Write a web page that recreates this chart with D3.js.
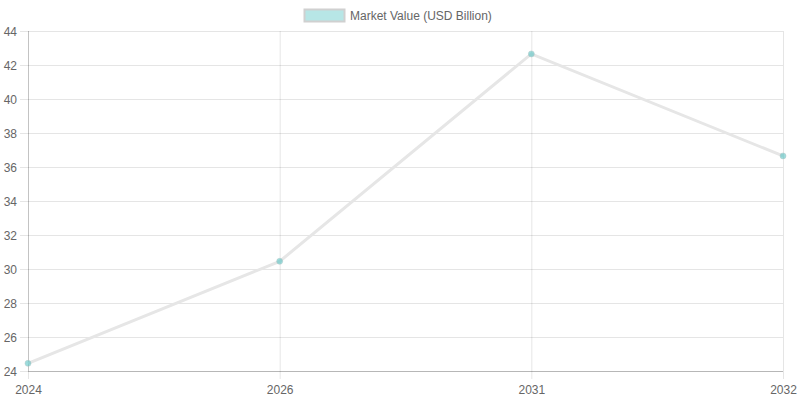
<!DOCTYPE html>
<html>
<head>
<meta charset="utf-8">
<script src="https://cdn.jsdelivr.net/npm/d3@7"></script>
<style>
  body { margin: 0; background: #fff; }
  text { font-family: "Liberation Sans", Arial, sans-serif; }
</style>
</head>
<body>
<div id="chart"></div>
<script>
// data
let years = ["2024", "2026", "2031", "2032"];
let marketValue = [24.45, 30.45, 42.65, 36.65];
let yTicks = [24, 26, 28, 30, 32, 34, 36, 38, 40, 42, 44];
let seriesName = "Market Value (USD Billion)";

let W = 800, H = 400,
  margin = {top: 31, left: 28, bottom: 29, right: 17};

let svg = d3.select("#chart").append("svg").attr("width", W).attr("height", H);

let x = d3.scalePoint()
  .domain(years)
  .range([margin.left, W - margin.right]);

let y = d3.scaleLinear()
  .domain([24, 44])
  .range([H - margin.bottom, margin.top]);

let gridColor = "rgba(0,0,0,0.1)";
let textColor = "#666";

// horizontal grid + y ticks
let yAxis = svg.append("g")
  .attr("transform", `translate(${margin.left},0)`)
  .call(d3.axisLeft(y).tickValues(yTicks).tickSize(8).tickPadding(3).tickFormat(d3.format("d")));
yAxis.select(".domain").remove();
yAxis.selectAll("line").attr("stroke", gridColor);
yAxis.selectAll("text").attr("fill", textColor).attr("font-size", 12).attr("dy", "0.4em");

svg.append("g")
  .selectAll("line")
  .data(yTicks)
  .join("line")
  .attr("x1", margin.left).attr("x2", W - margin.right)
  .attr("y1", d => y(d) + 0.5).attr("y2", d => y(d) + 0.5)
  .attr("stroke", gridColor);

// vertical grid + x ticks
let xAxis = svg.append("g")
  .attr("transform", `translate(0,${H - margin.bottom})`)
  .call(d3.axisBottom(x).tickSize(8).tickPadding(6));
xAxis.select(".domain").remove();
xAxis.selectAll("line").attr("stroke", gridColor);
xAxis.selectAll("text").attr("fill", textColor).attr("font-size", 12);

svg.append("g")
  .selectAll("line")
  .data(years)
  .join("line")
  .attr("x1", d => x(d) + 0.5).attr("x2", d => x(d) + 0.5)
  .attr("y1", margin.top).attr("y2", H - margin.bottom)
  .attr("stroke", gridColor);

// axis lines
svg.append("line")
  .attr("x1", margin.left + 0.5).attr("x2", margin.left + 0.5)
  .attr("y1", margin.top).attr("y2", H - margin.bottom)
  .attr("stroke", "rgba(0,0,0,0.15)");
svg.append("line")
  .attr("x1", margin.left).attr("x2", W - margin.right)
  .attr("y1", H - margin.bottom + 0.5).attr("y2", H - margin.bottom + 0.5)
  .attr("stroke", "rgba(0,0,0,0.2)");

// the line
let line = d3.line()
  .x((d, i) => x(years[i]))
  .y(d => y(d));

svg.append("path")
  .datum(marketValue)
  .attr("d", line)
  .attr("fill", "none")
  .attr("stroke", "#e6e6e6")
  .attr("stroke-width", 3);

svg.append("g")
  .selectAll("circle")
  .data(marketValue)
  .join("circle")
  .attr("cx", (d, i) => x(years[i]))
  .attr("cy", d => y(d))
  .attr("r", 3)
  .attr("fill", "rgba(75,192,192,0.55)")
  .attr("stroke", "rgba(180,200,200,0.5)")
  .attr("stroke-width", 1);

// legend
let legend = svg.append("g");
legend.append("rect")
  .attr("x", 304.5).attr("y", 9.5)
  .attr("width", 40).attr("height", 12)
  .attr("fill", "rgba(75,192,192,0.4)")
  .attr("stroke", "#d0d0d0")
  .attr("stroke-width", 2);
legend.append("text")
  .attr("x", 350).attr("y", 20)
  .attr("fill", textColor)
  .attr("font-size", 12)
  .text(seriesName);
</script>
</body>
</html>
